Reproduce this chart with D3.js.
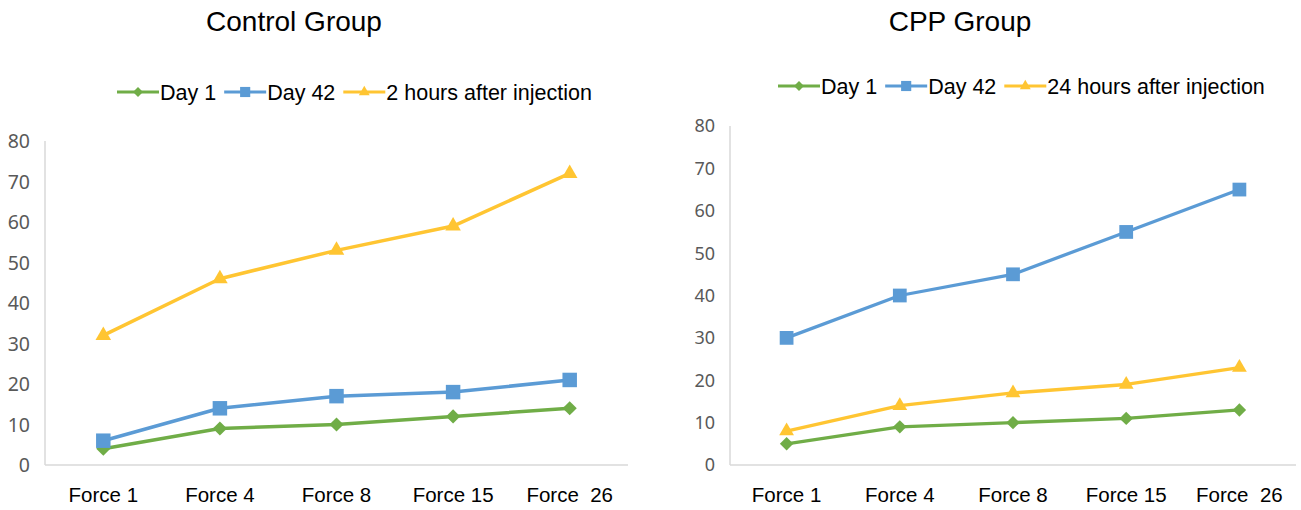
<!DOCTYPE html>
<html lang="en">
<head>
    <meta charset="UTF-8" />
    <title>Control Group vs CPP Group</title>
    <script src="https://cdn.jsdelivr.net/npm/d3@7"></script>
    <style>
        body { margin: 0; background: #fff; }
        text { font-family: "Liberation Sans", Arial, sans-serif; }
        .tick-label { font-family: "Noto Sans", "Open Sans", sans-serif; fill: #595959; }
    </style>
</head>
<body>
<svg id="chart" width="1301" height="510"></svg>
<script>
    // data
    const forces = ["Force 1", "Force 4", "Force 8", "Force 15", "Force  26"];
    const yTicks = [0, 10, 20, 30, 40, 50, 60, 70, 80];

    const controlDay1 = [4, 9, 10, 12, 14];
    const controlDay42 = [6, 14, 17, 18, 21];
    const control2h = [32, 46, 53, 59, 72];

    const cppDay1 = [5, 9, 10, 11, 13];
    const cppDay42 = [30, 40, 45, 55, 65];
    const cpp24h = [8, 14, 17, 19, 23];

    const colors = { day1: "#70ad47", day42: "#5b9bd5", after: "#ffc532" };

    const svg = d3.select("#chart");

    function marker(kind, scale) {
        if (kind === "diamond") return d3.symbol(d3.symbolSquare, 100 * scale * scale)();
        if (kind === "square") return d3.symbol(d3.symbolSquare, 210 * scale * scale)();
        return d3.symbol(d3.symbolTriangle, 105 * scale * scale)();
    }

    function drawPanel(p) {
        const g = svg.append("g");
        const x = d3.scaleBand().domain(forces).range([p.left, p.right]);
        const y = d3.scaleLinear().domain([0, 80]).range([p.bottom, p.top]);

        // axes lines
        g.append("line").attr("x1", p.left).attr("x2", p.left)
            .attr("y1", p.top).attr("y2", p.bottom)
            .attr("stroke", "#d9d9d9").attr("stroke-width", 1.5);
        g.append("line").attr("x1", p.left).attr("x2", p.right)
            .attr("y1", p.bottom).attr("y2", p.bottom)
            .attr("stroke", "#d9d9d9").attr("stroke-width", 1.5);

        // y tick labels
        g.selectAll(".tick-label").data(yTicks).join("text")
            .attr("class", "tick-label")
            .attr("x", p.left - 15).attr("y", d => y(d))
            .attr("dy", "0.36em").attr("text-anchor", "end")
            .attr("font-size", p.tickSize)
            .text(d => d);

        // x labels
        g.selectAll(".xlab").data(forces).join("text")
            .attr("class", "xlab")
            .attr("x", d => x(d) + x.bandwidth() / 2).attr("y", 502)
            .attr("text-anchor", "middle").attr("font-size", 20.5)
            .style("white-space", "pre").attr("xml:space", "preserve")
            .text(d => d);

        // title
        g.append("text").attr("x", p.titleX).attr("y", 31)
            .attr("text-anchor", "middle").attr("font-size", 28)
            .text(p.title);

        const line = d3.line().x((d, i) => x(forces[i]) + x.bandwidth() / 2).y(d => y(d));

        p.series.forEach(s => {
            g.append("path").datum(s.values)
                .attr("d", line).attr("fill", "none")
                .attr("stroke", s.color).attr("stroke-width", p.lineW)
                .attr("stroke-linejoin", "round");
            g.selectAll(null).data(s.values).join("path")
                .attr("d", marker(s.kind, p.mScale))
                .attr("transform", (d, i) => `translate(${x(forces[i]) + x.bandwidth() / 2},${y(d)})` + (s.kind === "diamond" ? " rotate(45)" : ""))
                .attr("fill", s.color);
        });

        // legend
        let lx = p.legendX;
        p.series.forEach(s => {
            g.append("line").attr("x1", lx).attr("x2", lx + 42)
                .attr("y1", p.legendY).attr("y2", p.legendY)
                .attr("stroke", s.color).attr("stroke-width", 3);
            g.append("path").attr("d", marker(s.kind, 0.7))
                .attr("transform", `translate(${lx + 21},${p.legendY})` + (s.kind === "diamond" ? " rotate(45)" : ""))
                .attr("fill", s.color);
            const t = g.append("text").attr("x", lx + 43).attr("y", p.legendY)
                .attr("dy", "0.35em").attr("font-size", p.legendSize).text(s.name);
            lx += 43 + t.node().getComputedTextLength() + 8;
        });
    }

    drawPanel({
        title: "Control Group", titleX: 294,
        left: 45, right: 628, top: 141, bottom: 465,
        tickSize: 19.5, lineW: 3.5, mScale: 1,
        legendX: 117, legendY: 92, legendSize: 21.5,
        series: [
            { name: "Day 1", values: controlDay1, color: colors.day1, kind: "diamond" },
            { name: "Day 42", values: controlDay42, color: colors.day42, kind: "square" },
            { name: "2 hours after injection", values: control2h, color: colors.after, kind: "triangle" }
        ]
    });

    drawPanel({
        title: "CPP Group", titleX: 960,
        left: 730, right: 1296, top: 126, bottom: 465,
        tickSize: 18, lineW: 3.3, mScale: 0.95,
        legendX: 778, legendY: 86, legendSize: 21.5,
        series: [
            { name: "Day 1", values: cppDay1, color: colors.day1, kind: "diamond" },
            { name: "Day 42", values: cppDay42, color: colors.day42, kind: "square" },
            { name: "24 hours after injection", values: cpp24h, color: colors.after, kind: "triangle" }
        ]
    });
</script>
</body>
</html>
